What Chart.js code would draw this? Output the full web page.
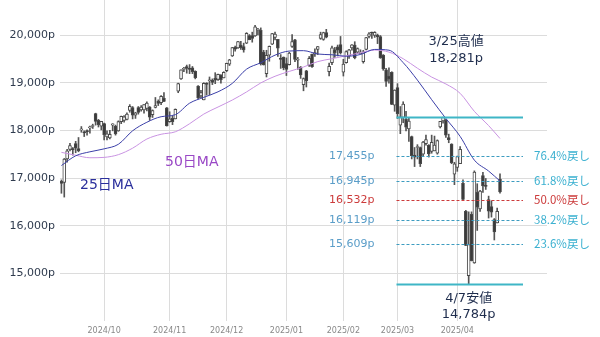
<!DOCTYPE html>
<html>
<head>
<meta charset="utf-8">
<script src="https://cdn.jsdelivr.net/npm/chart.js@4.4.1/dist/chart.umd.min.js"></script>
<style>
  html, body { margin: 0; padding: 0; background: #fff; }
  #wrap { width: 600px; height: 337px; }
</style>
</head>
<body>
<div id="wrap"><canvas id="c" width="600" height="337"></canvas></div>
<script>
// 日足 (2024/09/10 - 2025/04/23)
const dates = [
  "2024/09/10","2024/09/11","2024/09/12","2024/09/13","2024/09/16","2024/09/17","2024/09/18","2024/09/19","2024/09/20","2024/09/23",
  "2024/09/24","2024/09/25","2024/09/26","2024/09/27","2024/09/30","2024/10/01","2024/10/02","2024/10/03","2024/10/04","2024/10/07",
  "2024/10/08","2024/10/09","2024/10/10","2024/10/11","2024/10/14","2024/10/15","2024/10/16","2024/10/17","2024/10/18","2024/10/21",
  "2024/10/22","2024/10/23","2024/10/24","2024/10/25","2024/10/28","2024/10/29","2024/10/30","2024/10/31","2024/11/01","2024/11/04",
  "2024/11/05","2024/11/06","2024/11/07","2024/11/08","2024/11/11","2024/11/12","2024/11/13","2024/11/14","2024/11/15","2024/11/18",
  "2024/11/19","2024/11/20","2024/11/21","2024/11/22","2024/11/25","2024/11/26","2024/11/27","2024/11/29","2024/12/02","2024/12/03",
  "2024/12/04","2024/12/05","2024/12/06","2024/12/09","2024/12/10","2024/12/11","2024/12/12","2024/12/13","2024/12/16","2024/12/17",
  "2024/12/18","2024/12/19","2024/12/20","2024/12/23","2024/12/24","2024/12/26","2024/12/27","2024/12/30","2024/12/31","2025/01/02",
  "2025/01/03","2025/01/06","2025/01/07","2025/01/08","2025/01/10","2025/01/13","2025/01/14","2025/01/15","2025/01/16","2025/01/17",
  "2025/01/21","2025/01/22","2025/01/23","2025/01/24","2025/01/27","2025/01/28","2025/01/29","2025/01/30","2025/01/31","2025/02/03",
  "2025/02/04","2025/02/05","2025/02/06","2025/02/07","2025/02/10","2025/02/11","2025/02/12","2025/02/13","2025/02/14","2025/02/18",
  "2025/02/19","2025/02/20","2025/02/21","2025/02/24","2025/02/25","2025/02/26","2025/02/27","2025/02/28","2025/03/03","2025/03/04",
  "2025/03/05","2025/03/06","2025/03/07","2025/03/10","2025/03/11","2025/03/12","2025/03/13","2025/03/14","2025/03/17","2025/03/18",
  "2025/03/19","2025/03/20","2025/03/21","2025/03/24","2025/03/25","2025/03/26","2025/03/27","2025/03/28","2025/03/31","2025/04/01",
  "2025/04/02","2025/04/03","2025/04/04","2025/04/07","2025/04/08","2025/04/09","2025/04/10","2025/04/11","2025/04/14","2025/04/15",
  "2025/04/16","2025/04/17","2025/04/21","2025/04/22","2025/04/23"
];

const opens = [
  16930,16910,17400,17600,17620,17720,17620,18010,17970,17990,
  18050,18080,18350,18210,18090,18140,17860,17840,18110,18090,
  17990,18180,18210,18230,18420,18480,18320,18480,18430,18430,
  18460,18490,18330,18480,18610,18580,18670,18470,18180,18250,
  18240,18820,19080,19280,19340,19290,19310,19240,18930,18720,
  18640,18990,19040,19050,19090,19070,19160,19100,19250,19390,
  19560,19740,19730,19790,19760,19830,19990,19990,19980,20100,
  20100,19640,19190,19580,19810,19950,19910,19510,19540,19400,
  19380,19760,19900,19470,19330,18960,19250,19360,19600,19600,
  19700,19930,19910,20050,19230,19420,19690,19750,19800,19220,
  19420,19560,19730,19790,19640,19610,19440,19700,19970,20060,
  19990,20000,19970,19580,19270,19140,19220,18530,18900,18110,
  18270,18230,18030,17870,17480,17640,17640,17500,17720,17690,
  17560,17570,17520,18070,18200,18210,17850,17710,17080,17220,
  17300,16890,16300,14950,16240,15220,16700,16350,17050,16840,
  16550,16400,16130,16060,16980
];
const highs = [
  16960,17410,17600,17730,17640,17770,17850,18080,17990,18010,
  18090,18130,18360,18230,18190,18150,17990,18000,18140,18110,
  18200,18300,18310,18370,18540,18500,18380,18500,18520,18540,
  18600,18500,18430,18690,18640,18730,18790,18480,18390,18300,
  18450,18990,19270,19320,19370,19380,19340,19250,18940,18840,
  19000,19000,19120,19080,19210,19180,19170,19230,19410,19490,
  19740,19770,19870,19870,19830,20050,20010,20060,20205,20140,
  20150,19680,19680,19770,20035,20060,19910,19590,19540,19520,
  19640,20010,19910,19530,19340,19100,19260,19550,19600,19710,
  19760,20060,20060,20120,19410,19770,19740,19790,19970,19490,
  19670,19700,19800,19860,19730,19690,19680,19950,20050,20060,
  20070,20020,19990,19590,19300,19310,19230,18850,18980,18500,
  18600,18400,18260,17880,17640,17700,17650,17770,17900,17700,
  17900,17880,17800,18190,18281,18230,17920,17720,17330,17460,
  17660,16960,16320,16290,16290,17150,16880,16740,17120,16990,
  16620,16520,16150,16370,17090
];
const lows = [
  16680,16600,17330,17570,17480,17530,17550,17960,17870,17900,
  17940,18040,18110,18070,18010,17800,17800,17820,17990,17900,
  17980,18140,18170,18220,18380,18240,18250,18340,18400,18360,
  18410,18210,18270,18470,18520,18540,18600,18090,18170,18120,
  18240,18790,19070,19230,19200,19190,19190,19080,18660,18680,
  18640,18740,18750,18960,18980,19050,18990,19100,19230,19360,
  19550,19660,19720,19700,19640,19820,19900,19850,19970,20000,
  19370,19370,19120,19450,19800,19900,19550,19300,19270,19150,
  19370,19740,19440,19280,19090,18830,18910,19340,19320,19550,
  19590,19910,19890,19940,19140,19380,19530,19560,19600,19140,
  19410,19510,19680,19500,19610,19600,19410,19690,19940,19930,
  19950,19820,19510,19260,18920,18990,18540,18400,18250,17930,
  18160,17990,17770,17400,17240,17400,17240,17470,17690,17440,
  17520,17570,17500,18050,18150,17850,17740,17300,16860,17140,
  17300,16540,15580,14784,15260,15210,15900,16300,16700,16760,
  16160,16180,15700,16060,16680
];
const closes = [
  16885,17396,17570,17683,17592,17628,17573,18014,17948,17974,
  18075,18082,18190,18120,18189,17910,17925,17919,18138,17924,
  18183,18292,18282,18343,18503,18316,18367,18374,18490,18540,
  18573,18277,18416,18519,18567,18713,18608,18095,18240,18180,
  18439,18983,19270,19287,19299,19281,19231,19108,18680,18792,
  18988,18966,19060,19004,19055,19174,19061,19218,19404,19481,
  19735,19701,19860,19737,19687,20035,19903,19927,20174,20109,
  19393,19373,19573,19765,20031,20020,19722,19487,19311,19281,
  19622,19865,19490,19479,19162,19088,19044,19511,19338,19630,
  19757,20009,20054,19954,19342,19734,19632,19682,19627,19392,
  19654,19692,19792,19523,19714,19644,19650,19946,20027,20041,
  20056,19962,19524,19287,19026,19075,18544,18847,18350,18285,
  18553,18069,18196,17468,17436,17648,17303,17754,17809,17504,
  17751,17692,17784,18189,18272,17899,17804,17323,17299,17450,
  17601,16551,15588,15603,15268,17125,16387,16724,16832,16823,
  16307,16286,15871,16300,16708
];

// 移動平均 (週ごとの読み取り値)
const maDates = [
  "2024/09/10","2024/09/17","2024/09/24","2024/10/01","2024/10/08","2024/10/15","2024/10/22","2024/10/29",
  "2024/11/05","2024/11/12","2024/11/19","2024/11/26","2024/12/04","2024/12/11","2024/12/18","2024/12/26",
  "2025/01/03","2025/01/13","2025/01/21","2025/01/28","2025/02/04","2025/02/11","2025/02/19","2025/02/26",
  "2025/03/05","2025/03/12","2025/03/19","2025/03/26","2025/04/02","2025/04/09","2025/04/16","2025/04/23"
];
const ma25 = [
  17262,17466,17550,17612,17708,17991,18170,18286,18329,18570,18693,18809,18986,19284,19419,19578,
  19664,19672,19602,19586,19555,19592,19698,19682,19421,19054,18644,18249,17873,17375,17146,16937
];
const ma50 = [
  17538,17478,17425,17433,17490,17626,17818,17918,17970,18139,18342,18490,18636,18806,18995,19135,
  19237,19329,19443,19503,19566,19628,19685,19642,19503,19304,19118,18973,18777,18398,18100,17829
];

// 戻り水準
const swingHigh = 18281;
const swingLow = 14784;
const fibValues = [17455, 16945, 16532, 16119, 15609];
const fibNames = ["76.4%戻し", "61.8%戻し", "50.0%戻し", "38.2%戻し", "23.6%戻し"];
const yTicks = [15000, 16000, 17000, 18000, 19000, 20000];

const futureSlots = 16; // 右側の空白
const labels = dates.concat(Array(futureSlots).fill(""));

// 月初のインデックス
const monthLabel = {};
dates.forEach((d, i) => {
  if (i > 0 && d.slice(0, 7) !== dates[i - 1].slice(0, 7)) monthLabel[i] = d.slice(0, 7);
});

const FONT = "'DejaVu Sans', 'Noto Sans CJK JP', sans-serif";
const JP_FONT = "'Noto Sans CJK JP', 'DejaVu Sans', sans-serif";
const BLUE = "#3d9cc0";
const RED = "#cc3b3b";

const overlay = {
  id: "overlay",
  afterDatasetsDraw(chart) {
    const { ctx, chartArea, scales: { x, y } } = chart;
    const x0 = x.getPixelForValue(dates.indexOf("2025/03/03")) - 1;
    const x1 = chartArea.right - 24;
    ctx.save();

    // 高値・安値ライン
    ctx.strokeStyle = "#3fb6c6";
    ctx.lineWidth = 2;
    [swingHigh, swingLow].forEach(v => {
      const py = Math.round(y.getPixelForValue(v)) + 0.5;
      ctx.beginPath(); ctx.moveTo(x0, py); ctx.lineTo(x1, py); ctx.stroke();
    });

    // 戻しライン
    ctx.lineWidth = 1;
    ctx.setLineDash([3, 2]);
    ctx.textBaseline = "middle";
    fibValues.forEach((v, i) => {
      const isHalf = fibNames[i].startsWith("50.0");
      const py = Math.round(y.getPixelForValue(v)) + 0.5;
      ctx.strokeStyle = isHalf ? RED : BLUE;
      ctx.beginPath(); ctx.moveTo(x0, py); ctx.lineTo(x1, py); ctx.stroke();
      ctx.font = "11px " + FONT;
      ctx.fillStyle = isHalf ? RED : "#5a9dc8";
      ctx.textAlign = "right";
      ctx.fillText(v.toLocaleString("en-US") + "p", x0 - 22, py);
      ctx.font = "11.5px " + JP_FONT;
      ctx.fillStyle = isHalf ? RED : "#3ab0d0";
      ctx.textAlign = "left";
      ctx.fillText(fibNames[i], chartArea.right - 13, py - 1);
    });
    ctx.setLineDash([]);

    // 高値・安値の注記
    ctx.fillStyle = "#1f2d4d";
    ctx.font = "13px " + FONT;
    ctx.textAlign = "center";
    const hx = x.getPixelForValue(dates.indexOf("2025/03/25")) + 13;
    ctx.fillText("3/25高値", hx, 42);
    ctx.fillText(swingHigh.toLocaleString("en-US") + "p", hx, 59);
    const lx = x.getPixelForValue(dates.indexOf("2025/04/07"));
    const ly = y.getPixelForValue(swingLow);
    ctx.fillText("4/7安値", lx, ly + 15);
    ctx.fillText(swingLow.toLocaleString("en-US") + "p", lx, ly + 31);

    // 移動平均のラベル
    ctx.font = "14px " + FONT;
    ctx.textAlign = "left";
    ctx.fillStyle = "#2b2f9c";
    ctx.fillText("25日MA", 80, 185);
    ctx.fillStyle = "#9a48c6";
    ctx.fillText("50日MA", 165, 162);
    ctx.restore();
  }
};

new Chart(document.getElementById("c"), {
  data: {
    labels,
    datasets: [
      {
        type: "line",
        label: "25日MA",
        data: maDates.map((d, i) => ({ x: d, y: ma25[i] })),
        borderColor: "#3b3fa8",
        borderWidth: 1,
        pointRadius: 0,
        cubicInterpolationMode: "monotone",
        spanGaps: true,
        order: 1
      },
      {
        type: "line",
        label: "50日MA",
        data: maDates.map((d, i) => ({ x: d, y: ma50[i] })),
        borderColor: "#c993e2",
        borderWidth: 1,
        pointRadius: 0,
        cubicInterpolationMode: "monotone",
        spanGaps: true,
        order: 1
      },
      {
        type: "bar",
        label: "body",
        data: opens.map((o, i) => [Math.min(o, closes[i]), Math.max(o, closes[i])]),
        backgroundColor: opens.map((o, i) => closes[i] >= o ? "#ffffff" : "#3a3a3a"),
        borderColor: "#4a4a4a",
        borderWidth: 1,
        borderSkipped: false,
        barThickness: 3,
        minBarLength: 1,
        grouped: false,
        order: 2
      },
      {
        type: "bar",
        label: "wick",
        data: lows.map((l, i) => [l, highs[i]]),
        backgroundColor: "#555555",
        barThickness: 1,
        grouped: false,
        order: 3
      }
    ]
  },
  options: {
    responsive: false,
    animation: false,
    events: [],
    layout: { padding: { left: 0, right: 53, top: 0, bottom: 0 } },
    plugins: {
      legend: { display: false },
      tooltip: { enabled: false },
      title: { display: false }
    },
    scales: {
      x: {
        type: "category",
        offset: true,
        border: { display: false },
        grid: {
          offset: false,
          drawTicks: false,
          color: c => (c.index in monthLabel) ? "#dcdcdc" : "rgba(0,0,0,0)"
        },
        ticks: {
          autoSkip: false,
          maxRotation: 0,
          padding: 5,
          color: "#888",
          font: { family: FONT, size: 8 },
          callback: (v, i) => monthLabel[i] || ""
        },
        afterFit: s => { s.height = 16; s.paddingLeft = 0; s.paddingRight = 0; }
      },
      y: {
        min: 14000,
        max: 20735,
        border: { display: false },
        grid: { color: "#dcdcdc", drawTicks: false },
        afterBuildTicks: s => { s.ticks = yTicks.map(v => ({ value: v })); },
        ticks: {
          padding: 5,
          color: "#2f3b4e",
          font: { family: FONT, size: 11 },
          callback: v => v.toLocaleString("en-US") + "p"
        },
        afterFit: s => { s.width = 60; s.paddingTop = 0; s.paddingBottom = 0; }
      }
    }
  },
  plugins: [overlay]
});
</script>
</body>
</html>
